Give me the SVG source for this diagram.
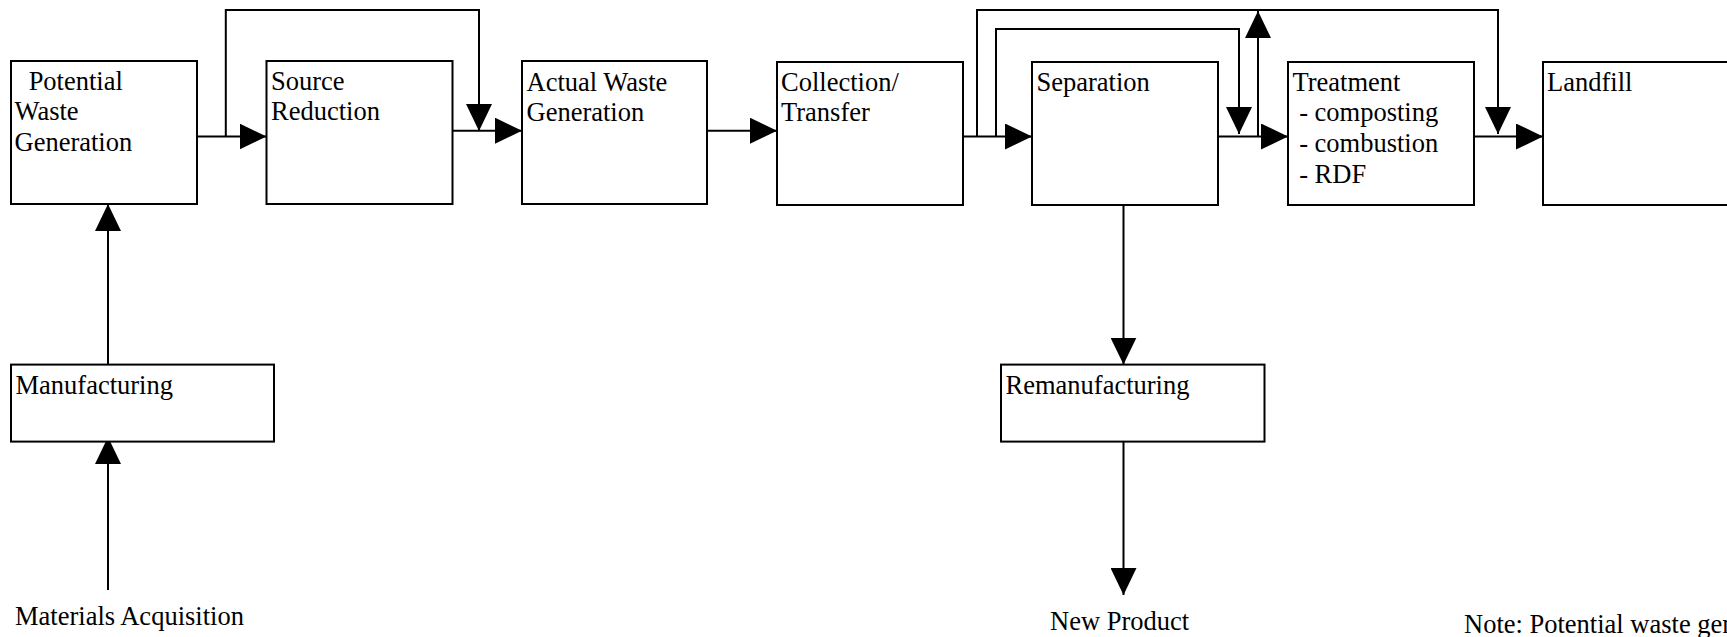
<svg xmlns="http://www.w3.org/2000/svg" width="1727" height="637" viewBox="0 0 1727 637">
<defs>
<marker id="arr" markerUnits="userSpaceOnUse" markerWidth="27" markerHeight="26" refX="27" refY="13" orient="auto" viewBox="0 0 27 26">
<path d="M0,0 L27,13 L0,26 z" fill="#000"/>
</marker>
<style>
.box{fill:#fff;stroke:#000;stroke-width:2}
.t{font-family:"Liberation Serif","Times New Roman",serif;font-size:26.5px;fill:#000}
.c{fill:none;stroke:#000;stroke-width:2;marker-end:url(#arr)}
</style>
</defs>
<rect width="1727" height="637" fill="#fff"/>
<g id="connectors">
<path class="c" d="M197,136.5 H266.5"/>
<path class="c" d="M225.8,136.5 V10 H479 V131"/>
<path class="c" d="M452.7,130.7 H522"/>
<path class="c" d="M707,130.7 H777"/>
<path class="c" d="M963,136.5 H1032"/>
<path class="c" d="M977,136.5 V10 H1498 V134"/>
<path class="c" d="M996,136.5 V29 H1239 V134"/>
<path class="c" d="M1218,136.5 H1288"/>
<path class="c" d="M1258,136.5 V11"/>
<path class="c" d="M1474,136.5 H1543"/>
<path class="c" d="M108,364.6 V204"/>
<path class="c" d="M108,590 V437"/>
<path class="c" d="M1123.5,205 V364.6"/>
<path class="c" d="M1123.5,441.7 V595"/>
</g>
<g id="potential">
<rect class="box" x="11" y="61" width="186" height="143"/>
<text class="t" x="22" y="90" xml:space="preserve"> Potential</text>
<text class="t" x="14.5" y="120">Waste</text>
<text class="t" x="14.5" y="151">Generation</text>
</g>
<g id="source">
<rect class="box" x="266.5" y="61" width="186" height="143"/>
<text class="t" x="271" y="90">Source</text>
<text class="t" x="271" y="120">Reduction</text>
</g>
<g id="actual">
<rect class="box" x="522" y="61" width="185" height="143"/>
<text class="t" x="526.5" y="90.7">Actual Waste</text>
<text class="t" x="526.5" y="120.7">Generation</text>
</g>
<g id="collection">
<rect class="box" x="777" y="62" width="186" height="143"/>
<text class="t" x="781" y="90.7">Collection/</text>
<text class="t" x="781" y="121">Transfer</text>
</g>
<g id="separation">
<rect class="box" x="1032" y="62" width="186" height="143"/>
<text class="t" x="1036.5" y="90.7">Separation</text>
</g>
<g id="treatment">
<rect class="box" x="1288" y="62" width="186" height="143"/>
<text class="t" x="1292.5" y="90.7">Treatment</text>
<text class="t" x="1292.5" y="120.7" xml:space="preserve"> - composting</text>
<text class="t" x="1292.5" y="151.7" xml:space="preserve"> - combustion</text>
<text class="t" x="1292.5" y="182.7" xml:space="preserve"> - RDF</text>
</g>
<g id="landfill">
<rect class="box" x="1543" y="62" width="186" height="143"/>
<text class="t" x="1547" y="90.7">Landfill</text>
</g>
<g id="manufacturing">
<rect class="box" x="11" y="364.6" width="263" height="77"/>
<text class="t" x="15.5" y="393.5">Manufacturing</text>
</g>
<g id="remanufacturing">
<rect class="box" x="1001" y="364.6" width="263.5" height="77"/>
<text class="t" x="1005.5" y="393.5">Remanufacturing</text>
</g>
<g id="materials">
<text class="t" x="15" y="625">Materials Acquisition</text>
</g>
<g id="newproduct">
<text class="t" x="1050" y="630">New Product</text>
</g>
<g id="note">
<text class="t" x="1464" y="632.5">Note: Potential waste generation</text>
</g>
</svg>
